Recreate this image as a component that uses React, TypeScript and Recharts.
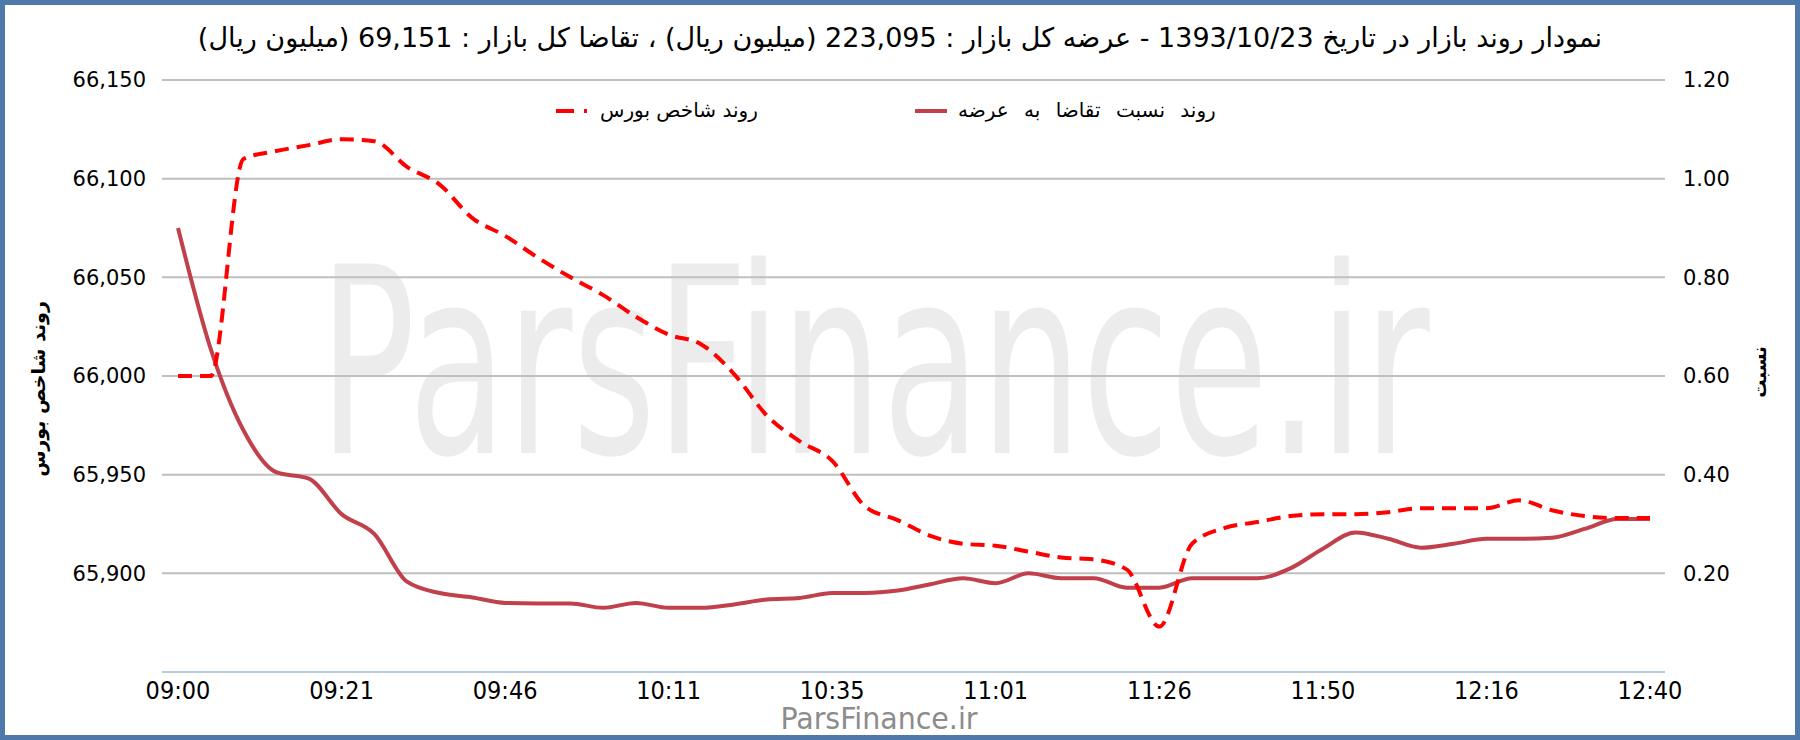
import { LineChart, Line, XAxis, YAxis, CartesianGrid, Legend } from 'recharts';

const TIMES = [
  '09:00', '09:04', '09:08', '09:12', '09:17',
  '09:21', '09:26', '09:31', '09:36', '09:41',
  '09:46', '09:51', '09:56', '10:01', '10:06',
  '10:11', '10:16', '10:21', '10:26', '10:30',
  '10:35', '10:40', '10:45', '10:50', '10:56',
  '11:01', '11:06', '11:11', '11:16', '11:21',
  '11:26', '11:31', '11:36', '11:41', '11:45',
  '11:50', '11:55', '12:00', '12:05', '12:11',
  '12:16', '12:21', '12:26', '12:31', '12:35',
  '12:40',
];

// شاخص بورس (left axis)
const INDEX_VALUES = [
  66000, 66000, 66110, 66114, 66117,
  66120, 66119, 66106, 66097, 66080,
  66071, 66060, 66050, 66041, 66030,
  66021, 66016, 66001, 65980, 65967,
  65957, 65934, 65927, 65919, 65915,
  65914, 65911, 65908, 65907, 65902,
  65873, 65915, 65923, 65926, 65929,
  65930, 65930, 65931, 65933, 65933,
  65933, 65937, 65932, 65929, 65928,
  65928,
];

// نسبت تقاضا به عرضه (right axis)
const RATIO_VALUES = [
  0.9, 0.655, 0.49, 0.405, 0.392,
  0.32, 0.28, 0.183, 0.16, 0.151,
  0.14, 0.139, 0.139, 0.13, 0.14,
  0.13, 0.13, 0.137, 0.147, 0.15,
  0.16, 0.16, 0.165, 0.178, 0.19,
  0.18, 0.2, 0.19, 0.19, 0.171,
  0.171, 0.19, 0.19, 0.19, 0.21,
  0.25, 0.283, 0.27, 0.252, 0.26,
  0.27, 0.27, 0.272, 0.29, 0.31,
  0.31,
];

const LEFT_TICKS = [65900, 65950, 66000, 66050, 66100, 66150];
const RIGHT_TICKS = [0.2, 0.4, 0.6, 0.8, 1.0, 1.2];

const INDEX_NAME = 'روند شاخص بورس';
const RATIO_NAME = 'روند نسبت تقاضا به عرضه';
const RIGHT_TITLE = 'نسبت';
const TITLE =
  'نمودار روند بازار در تاریخ 1393/10/23 - عرضه کل بازار : 223,095 (میلیون ریال) ، تقاضا کل بازار : 69,151 (میلیون ریال)';

const FONT = '"DejaVu Sans", sans-serif';
const COND = '"DejaVu Sans Condensed", "DejaVu Sans", sans-serif';
const INDEX_COLOR = '#ff0000';
const RATIO_COLOR = '#c0404c';

const chartData = TIMES.map((time, i) => ({
  time,
  index: INDEX_VALUES[i],
  ratio: RATIO_VALUES[i],
}));

function ChartLegend() {
  return (
    <div style={{ position: 'relative', width: 1800, height: 30, fontFamily: FONT, fontSize: 20 }}>
      <svg style={{ position: 'absolute', left: 550, top: 0 }} width={46} height={30}>
        <line x1={6} y1={15} x2={44} y2={15} stroke={INDEX_COLOR} strokeWidth={4} strokeDasharray="18 10 3 10" />
      </svg>
      <span dir="rtl" style={{ position: 'absolute', left: 600, top: 2, whiteSpace: 'nowrap', color: '#000' }}>
        {INDEX_NAME}
      </span>
      <svg style={{ position: 'absolute', left: 912, top: 0 }} width={38} height={30}>
        <line x1={3} y1={15} x2={35} y2={15} stroke={RATIO_COLOR} strokeWidth={4} />
      </svg>
      <span
        dir="rtl"
        style={{ position: 'absolute', left: 958, top: 2, whiteSpace: 'nowrap', color: '#000', wordSpacing: 9 }}
      >
        {RATIO_NAME}
      </span>
    </div>
  );
}

export default function App() {
  return (
    <div style={{ position: 'relative', width: 1800, height: 740, background: '#fff', overflow: 'hidden' }}>
      <style>{'body{margin:0}'}</style>

      {/* watermark behind the plot, squeezed horizontally */}
      <svg style={{ position: 'absolute', left: 0, top: 0 }} width={1800} height={740}>
        <text transform="translate(319 453) scale(0.616 1)" fontFamily={FONT} fontSize={260} fill="#ececec">
          ParsFinance.ir
        </text>
      </svg>

      <div
        dir="rtl"
        style={{
          position: 'absolute',
          left: 0,
          top: 22,
          width: 1800,
          textAlign: 'center',
          fontFamily: FONT,
          fontSize: 27,
          color: '#000',
          whiteSpace: 'nowrap',
        }}
      >
        {TITLE}
      </div>

      <div style={{ position: 'absolute', left: 0, top: 0 }}>
        <LineChart width={1800} height={740} data={chartData} margin={{ top: 80, right: 0, bottom: 28, left: 0 }}>
          <CartesianGrid vertical={false} yAxisId="left" stroke="#bfbfbf" strokeWidth={2} />
          <XAxis
            dataKey="time"
            interval={4}
            padding={{ left: 16, right: 15 }}
            height={40}
            axisLine={{ stroke: '#b9c9de', strokeWidth: 2 }}
            tickLine={false}
            tickSize={0}
            tickMargin={9}
            tick={{ fill: '#000', fontSize: 25, fontFamily: COND }}
          />
          <YAxis
            yAxisId="left"
            width={162}
            domain={[65850, 66150]}
            ticks={LEFT_TICKS}
            axisLine={false}
            tickLine={false}
            tickSize={0}
            tickMargin={16}
            tickFormatter={(v: number) => v.toLocaleString('en-US')}
            tick={{ fill: '#000', fontSize: 21, fontFamily: FONT }}
          />
          <YAxis
            yAxisId="right"
            orientation="right"
            width={135}
            domain={[0, 1.2]}
            ticks={RIGHT_TICKS}
            axisLine={false}
            tickLine={false}
            tickSize={0}
            tickMargin={18}
            tickFormatter={(v: number) => v.toFixed(2)}
            tick={{ fill: '#000', fontSize: 21, fontFamily: FONT, textAnchor: 'start' }}
          />
          <Legend
            verticalAlign="middle"
            layout="horizontal"
            wrapperStyle={{ top: 96, left: 0, width: 1800, height: 30 }}
            content={() => <ChartLegend />}
          />
          <Line
            yAxisId="right"
            dataKey="ratio"
            name={RATIO_NAME}
            type="monotone"
            stroke={RATIO_COLOR}
            strokeWidth={4}
            dot={false}
            isAnimationActive={false}
          />
          <Line
            yAxisId="left"
            dataKey="index"
            name={INDEX_NAME}
            type="monotone"
            stroke={INDEX_COLOR}
            strokeWidth={4}
            strokeDasharray="14 8"
            dot={false}
            isAnimationActive={false}
          />
        </LineChart>
      </div>

      <div
        dir="rtl"
        style={{
          position: 'absolute',
          left: 38,
          top: 389,
          transform: 'translate(-50%, -50%) rotate(-90deg)',
          fontFamily: FONT,
          fontSize: 19,
          fontWeight: 'bold',
          whiteSpace: 'nowrap',
          color: '#000',
        }}
      >
        {INDEX_NAME}
      </div>
      <div
        dir="rtl"
        style={{
          position: 'absolute',
          left: 1759,
          top: 372,
          transform: 'translate(-50%, -50%) rotate(-90deg)',
          fontFamily: FONT,
          fontSize: 18,
          fontWeight: 'bold',
          whiteSpace: 'nowrap',
          color: '#000',
        }}
      >
        {RIGHT_TITLE}
      </div>

      <svg style={{ position: 'absolute', left: 0, top: 0 }} width={1800} height={740}>
        <text
          x={879}
          y={729}
          textAnchor="middle"
          fontFamily={COND}
          fontSize={30}
          fill="#8c8c8c"
          textLength={197}
          lengthAdjust="spacingAndGlyphs"
        >
          ParsFinance.ir
        </text>
      </svg>

      <div
        style={{
          position: 'absolute',
          inset: 0,
          border: '5px solid #4f79aa',
          pointerEvents: 'none',
        }}
      />
    </div>
  );
}
